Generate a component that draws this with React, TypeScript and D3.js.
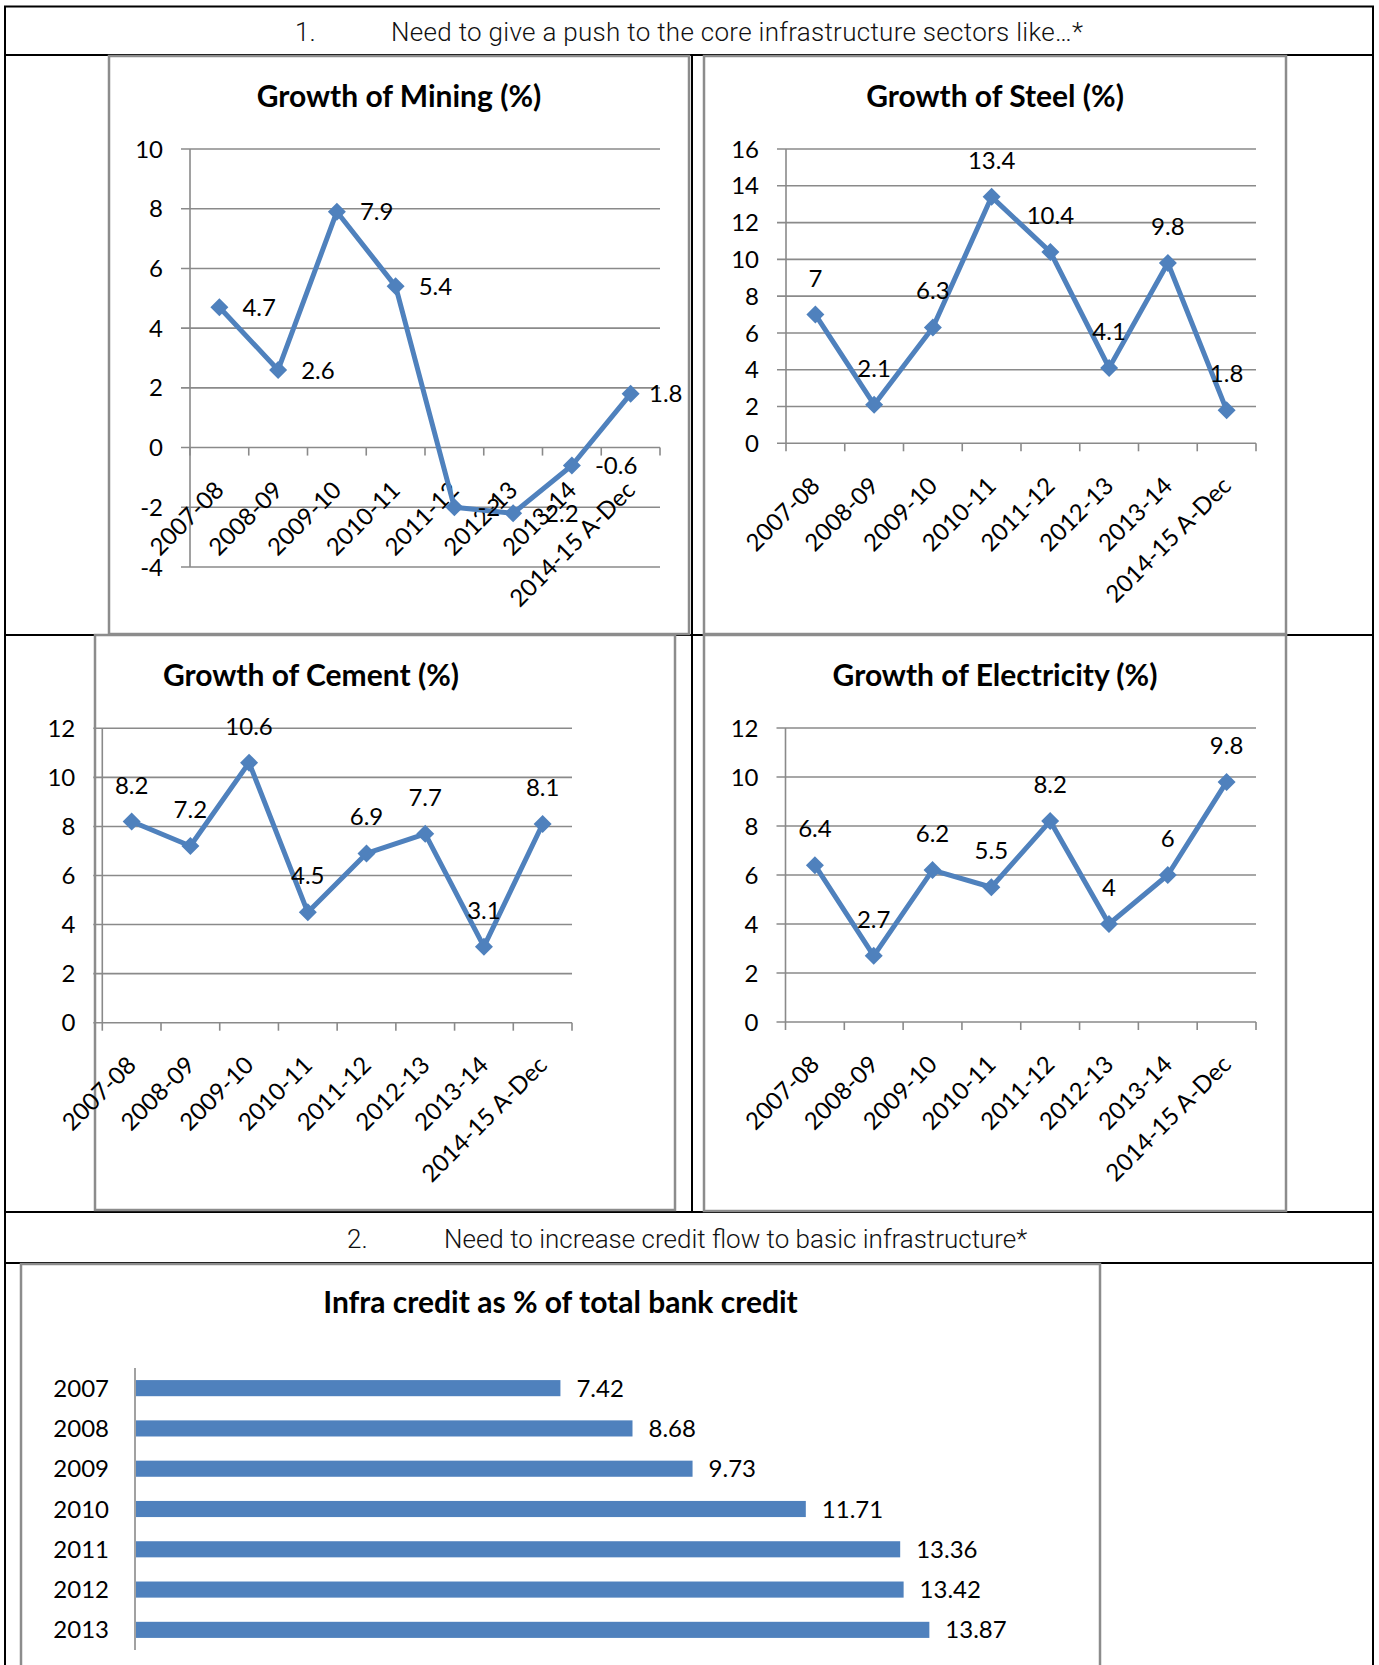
import React from "react";
import * as d3 from "d3";

// Fiscal-year categories shared by the four growth charts
const categories = ["2007-08", "2008-09", "2009-10", "2010-11", "2011-12", "2012-13", "2013-14", "2014-15 A-Dec"];

// Growth rates (%)
const mining = [4.7, 2.6, 7.9, 5.4, -2, -2.2, -0.6, 1.8];
const steel = [7, 2.1, 6.3, 13.4, 10.4, 4.1, 9.8, 1.8];
const cement = [8.2, 7.2, 10.6, 4.5, 6.9, 7.7, 3.1, 8.1];
const electricity = [6.4, 2.7, 6.2, 5.5, 8.2, 4, 6, 9.8];

// Value-axis ticks
const miningTicks = [-4, -2, 0, 2, 4, 6, 8, 10];
const steelTicks = [0, 2, 4, 6, 8, 10, 12, 14, 16];
const cementTicks = [0, 2, 4, 6, 8, 10, 12];
const electricityTicks = [0, 2, 4, 6, 8, 10, 12];

// Infra credit as % of total bank credit
const creditYears = ["2007", "2008", "2009", "2010", "2011", "2012", "2013"];
const creditShare = [7.42, 8.68, 9.73, 11.71, 13.36, 13.42, 13.87];

const FONT = "Lato, 'Open Sans', 'DejaVu Sans', sans-serif";
const HEAD_FONT = "Roboto, 'Liberation Sans', Arial, sans-serif";
const BLUE = "#4f81bd";
const GRID = "#8a8a8a";
const FRAME = "#8c8c8c";
const LABEL_SIZE = 24;
const TITLE_SIZE = 30;

type Panel = {
  key: string;
  title: string;
  titleX: number;
  values: number[];
  ticks: number[];
  labelPos: "right" | "above";
  box: [number, number, number, number];
  plot: { x0: number; x1: number; yTop: number; yBottom: number };
};

const panels: Panel[] = [
  {
    key: "mining",
    title: "Growth of Mining (%)",
    titleX: 399,
    values: mining,
    ticks: miningTicks,
    labelPos: "right",
    box: [109, 56, 689, 634],
    plot: { x0: 190, x1: 660, yTop: 149, yBottom: 567 },
  },
  {
    key: "steel",
    title: "Growth of Steel (%)",
    titleX: 995,
    values: steel,
    ticks: steelTicks,
    labelPos: "above",
    box: [704, 56, 1286, 634],
    plot: { x0: 786, x1: 1256, yTop: 149, yBottom: 443.3 },
  },
  {
    key: "cement",
    title: "Growth of Cement (%)",
    titleX: 311,
    values: cement,
    ticks: cementTicks,
    labelPos: "above",
    box: [95, 635, 675, 1210],
    plot: { x0: 102.3, x1: 572, yTop: 728.3, yBottom: 1022.7 },
  },
  {
    key: "electricity",
    title: "Growth of Electricity (%)",
    titleX: 995,
    values: electricity,
    ticks: electricityTicks,
    labelPos: "above",
    box: [704, 635, 1286, 1211],
    plot: { x0: 785.5, x1: 1256, yTop: 728, yBottom: 1022 },
  },
];

function LinePanel({ p }: { p: Panel }) {
  const [bx0, by0, bx1, by1] = p.box;
  const x = d3.scaleBand<string>().domain(categories).range([p.plot.x0, p.plot.x1]);
  const y = d3
    .scaleLinear()
    .domain([p.ticks[0], p.ticks[p.ticks.length - 1]])
    .range([p.plot.yBottom, p.plot.yTop]);
  const cx = (c: string) => (x(c) as number) + x.bandwidth() / 2;
  const axisY = y(0);
  const line = d3
    .line<number>()
    .x((_, i) => cx(categories[i]))
    .y((v) => y(v));
  const boundaries = d3.range(categories.length + 1).map((i) => p.plot.x0 + i * x.step());
  const diamond = "M0,-9L9,0L0,9L-9,0Z";

  return (
    <g>
      <rect x={bx0} y={by0} width={bx1 - bx0} height={by1 - by0} fill="#fff" stroke={FRAME} strokeWidth={2.5} />
      <text x={p.titleX} y={by0 + 51} textAnchor="middle" fontFamily={FONT} fontWeight={700} fontSize={TITLE_SIZE} fill="#000">
        {p.title}
      </text>
      {/* gridlines and value ticks */}
      {p.ticks.map((t) => (
        <g key={t}>
          <line x1={p.plot.x0 - 9} x2={p.plot.x1} y1={y(t)} y2={y(t)} stroke={GRID} strokeWidth={1.6} />
          <text x={p.plot.x0 - 27} y={y(t)} dy="0.36em" textAnchor="end" fontFamily={FONT} fontSize={LABEL_SIZE} fill="#000">
            {t}
          </text>
        </g>
      ))}
      <line x1={p.plot.x0} x2={p.plot.x0} y1={p.plot.yTop} y2={p.plot.yBottom} stroke={GRID} strokeWidth={1.6} />
      {boundaries.map((bx, i) => (
        <line key={i} x1={bx} x2={bx} y1={axisY} y2={axisY + 8} stroke={GRID} strokeWidth={1.6} />
      ))}
      {categories.map((c) => (
        <text
          key={c}
          transform={`translate(${cx(c) + 6},${axisY + 44}) rotate(-45)`}
          textAnchor="end"
          fontFamily={FONT}
          fontSize={LABEL_SIZE}
          fill="#000"
        >
          {c}
        </text>
      ))}
      <path d={line(p.values) as string} fill="none" stroke={BLUE} strokeWidth={5} strokeLinejoin="round" />
      {p.values.map((v, i) => (
        <path key={i} d={diamond} transform={`translate(${cx(categories[i])},${y(v)})`} fill={BLUE} />
      ))}
      {p.values.map((v, i) =>
        p.labelPos === "right" ? (
          <text
            key={i}
            x={Math.min(cx(categories[i]) + 23, bx1 - 40)}
            y={y(v)}
            dy="0.36em"
            fontFamily={FONT}
            fontSize={LABEL_SIZE}
            fill="#000"
          >
            {v}
          </text>
        ) : (
          <text key={i} x={cx(categories[i])} y={y(v) - 28} textAnchor="middle" fontFamily={FONT} fontSize={LABEL_SIZE} fill="#000">
            {v}
          </text>
        )
      )}
    </g>
  );
}

function CreditBars() {
  const box = [21, 1264, 1100, 1720];
  const x = d3.scaleLinear().domain([0, 16]).range([136, 1051.2]);
  const y = d3.scaleBand<string>().domain(creditYears).range([1368, 1650]).paddingInner(0.6).paddingOuter(0.3);
  return (
    <g>
      <rect x={box[0]} y={box[1]} width={box[2] - box[0]} height={box[3] - box[1]} fill="#fff" stroke={FRAME} strokeWidth={2.5} />
      <text x={560.5} y={1313} textAnchor="middle" fontFamily={FONT} fontWeight={700} fontSize={TITLE_SIZE} fill="#000">
        Infra credit as % of total bank credit
      </text>
      {creditYears.map((yr, i) => {
        const yy = y(yr) as number;
        const mid = yy + y.bandwidth() / 2;
        return (
          <g key={yr}>
            <rect x={x(0)} y={yy} width={x(creditShare[i]) - x(0)} height={y.bandwidth()} fill={BLUE} />
            <text x={109} y={mid} dy="0.36em" textAnchor="end" fontFamily={FONT} fontSize={LABEL_SIZE} fill="#000">
              {yr}
            </text>
            <text x={x(creditShare[i]) + 16} y={mid} dy="0.36em" fontFamily={FONT} fontSize={LABEL_SIZE} fill="#000">
              {creditShare[i]}
            </text>
          </g>
        );
      })}
      <line x1={135} x2={135} y1={1368} y2={1650} stroke={GRID} strokeWidth={1.6} />
    </g>
  );
}

export default function App() {
  const W = 1379;
  const H = 1665;
  return (
    <svg width={W} height={H} style={{ position: "absolute", left: 0, top: 0, background: "#fff" }}>
      <rect width={W} height={H} fill="#fff" />
      {/* table rules */}
      <g stroke="#000" strokeWidth={2}>
        <line x1={4} x2={1374} y1={6.5} y2={6.5} />
        <line x1={5} x2={5} y1={6.5} y2={H} />
        <line x1={1373} x2={1373} y1={6.5} y2={H} />
        <line x1={5} x2={1373} y1={55} y2={55} />
        <line x1={5} x2={1373} y1={635} y2={635} />
        <line x1={5} x2={1373} y1={1212} y2={1212} />
        <line x1={5} x2={1373} y1={1263} y2={1263} />
        <line x1={692} x2={692} y1={55} y2={1212} />
      </g>
      <text y={41} fontFamily={HEAD_FONT} fontWeight={300} fontSize={26} fill="#111">
        <tspan x={295}>1.</tspan>
        <tspan x={391} textLength={692} lengthAdjust="spacing">
          Need to give a push to the core infrastructure sectors like…*
        </tspan>
      </text>
      <text y={1248} fontFamily={HEAD_FONT} fontWeight={300} fontSize={26} fill="#111">
        <tspan x={347}>2.</tspan>
        <tspan x={444}>Need to increase credit flow to basic infrastructure*</tspan>
      </text>
      {panels.map((p) => (
        <LinePanel key={p.key} p={p} />
      ))}
      <CreditBars />
    </svg>
  );
}
